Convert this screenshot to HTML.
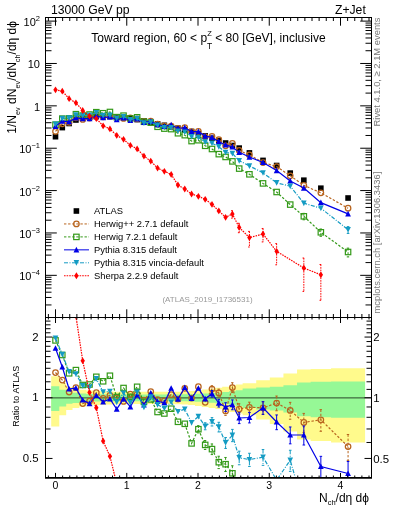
<!DOCTYPE html>
<html><head><meta charset="utf-8"><style>
html,body{margin:0;padding:0;background:#fff;width:393px;height:512px;overflow:hidden}
svg{display:block;font-family:"Liberation Sans", sans-serif;will-change:transform}
</style></head><body>
<svg width="393" height="512" viewBox="0 0 393 512">
<defs><clipPath id="cm"><rect x="46" y="18" width="325" height="299"/></clipPath><clipPath id="cr"><rect x="46" y="318" width="325" height="159"/></clipPath></defs>
<path d="M51.20 376.13L59.30 376.13L59.30 383.26L66.20 383.26L66.20 387.05L72.51 387.05L72.51 388.61L79.31 388.61L79.31 389.80L86.12 389.80L86.12 390.61L92.92 390.61L92.92 391.01L99.73 391.01L99.73 391.17L106.53 391.17L106.53 391.42L113.33 391.42L113.33 391.66L120.14 391.66L120.14 391.83L126.94 391.83L126.94 391.83L133.74 391.83L133.74 391.83L140.55 391.83L140.55 391.83L147.35 391.83L147.35 391.83L154.16 391.83L154.16 391.83L160.96 391.83L160.96 391.83L167.76 391.83L167.76 391.83L174.57 391.83L174.57 391.66L181.37 391.66L181.37 391.42L188.18 391.42L188.18 391.01L194.98 391.01L194.98 390.20L201.78 390.20L201.78 389.40L208.59 389.40L208.59 388.61L215.39 388.61L215.39 387.83L222.19 387.83L222.19 386.66L229.00 386.66L229.00 385.51L235.80 385.51L235.80 384.38L242.61 384.38L242.61 383.26L256.21 383.26L256.21 380.34L269.82 380.34L269.82 377.51L283.43 377.51L283.43 373.44L297.04 373.44L297.04 369.55L310.65 369.55L310.65 368.92L331.06 368.92L331.06 368.29L365.08 368.29L365.08 442.48L331.06 442.48L331.06 441.03L310.65 441.03L310.65 439.61L297.04 439.61L297.04 431.52L283.43 431.52L283.43 424.11L269.82 424.11L269.82 419.51L256.21 419.51L256.21 415.13L242.61 415.13L242.61 413.54L235.80 413.54L235.80 411.98L229.00 411.98L229.00 410.45L222.19 410.45L222.19 408.94L215.39 408.94L215.39 407.95L208.59 407.95L208.59 406.98L201.78 406.98L201.78 406.01L194.98 406.01L194.98 405.05L188.18 405.05L188.18 404.58L181.37 404.58L181.37 404.29L174.57 404.29L174.57 404.10L167.76 404.10L167.76 404.10L160.96 404.10L160.96 404.10L154.16 404.10L154.16 404.10L147.35 404.10L147.35 404.10L140.55 404.10L140.55 404.10L133.74 404.10L133.74 404.10L126.94 404.10L126.94 404.10L120.14 404.10L120.14 404.29L113.33 404.29L113.33 404.58L106.53 404.58L106.53 404.86L99.73 404.86L99.73 405.05L92.92 405.05L92.92 405.53L86.12 405.53L86.12 406.49L79.31 406.49L79.31 407.95L72.51 407.95L72.51 409.94L66.20 409.94L66.20 415.13L59.30 415.13L59.30 426.51L51.20 426.51Z" fill="#fffa8c"/>
<path d="M51.20 386.28L59.30 386.28L59.30 389.80L66.20 389.80L66.20 392.24L72.51 392.24L72.51 392.81L79.31 392.81L79.31 393.48L86.12 393.48L86.12 393.90L92.92 393.90L92.92 394.15L99.73 394.15L99.73 394.23L106.53 394.23L106.53 394.32L113.33 394.32L113.33 394.40L120.14 394.40L120.14 394.48L126.94 394.48L126.94 394.48L133.74 394.48L133.74 394.48L140.55 394.48L140.55 394.48L147.35 394.48L147.35 394.48L154.16 394.48L154.16 394.48L160.96 394.48L160.96 394.48L167.76 394.48L167.76 394.48L174.57 394.48L174.57 394.40L181.37 394.40L181.37 394.32L188.18 394.32L188.18 394.15L194.98 394.15L194.98 393.81L201.78 393.81L201.78 393.48L208.59 393.48L208.59 393.06L215.39 393.06L215.39 392.65L222.19 392.65L222.19 391.99L229.00 391.99L229.00 391.17L235.80 391.17L235.80 390.20L242.61 390.20L242.61 388.61L256.21 388.61L256.21 387.44L269.82 387.44L269.82 386.66L283.43 386.66L283.43 385.13L297.04 385.13L297.04 382.52L310.65 382.52L310.65 381.79L331.06 381.79L331.06 381.42L365.08 381.42L365.08 417.84L331.06 417.84L331.06 417.29L310.65 417.29L310.65 416.20L297.04 416.20L297.04 412.50L283.43 412.50L283.43 410.45L269.82 410.45L269.82 409.44L256.21 409.44L256.21 407.95L242.61 407.95L242.61 406.01L235.80 406.01L235.80 404.86L229.00 404.86L229.00 403.92L222.19 403.92L222.19 403.17L215.39 403.17L215.39 402.70L208.59 402.70L208.59 402.24L201.78 402.24L201.78 401.87L194.98 401.87L194.98 401.51L188.18 401.51L188.18 401.32L181.37 401.32L181.37 401.23L174.57 401.23L174.57 401.14L167.76 401.14L167.76 401.14L160.96 401.14L160.96 401.14L154.16 401.14L154.16 401.14L147.35 401.14L147.35 401.14L140.55 401.14L140.55 401.14L133.74 401.14L133.74 401.14L126.94 401.14L126.94 401.14L120.14 401.14L120.14 401.23L113.33 401.23L113.33 401.32L106.53 401.32L106.53 401.42L99.73 401.42L99.73 401.51L92.92 401.51L92.92 401.78L86.12 401.78L86.12 402.24L79.31 402.24L79.31 402.98L72.51 402.98L72.51 403.63L66.20 403.63L66.20 406.49L59.30 406.49L59.30 410.96L51.20 410.96Z" fill="#96f896"/>
<line x1="45.5" y1="397.9" x2="371.5" y2="397.9" stroke="#000" stroke-width="1" stroke-opacity="0.72"/>
<g clip-path="url(#cm)"><rect x="52.70" y="133.90" width="5.6" height="5.6" fill="#000"/><rect x="59.50" y="124.80" width="5.6" height="5.6" fill="#000"/><rect x="66.31" y="120.70" width="5.6" height="5.6" fill="#000"/><rect x="73.11" y="117.20" width="5.6" height="5.6" fill="#000"/><rect x="79.92" y="115.45" width="5.6" height="5.6" fill="#000"/><rect x="86.72" y="114.50" width="5.6" height="5.6" fill="#000"/><rect x="93.52" y="113.80" width="5.6" height="5.6" fill="#000"/><rect x="100.33" y="113.90" width="5.6" height="5.6" fill="#000"/><rect x="107.13" y="113.80" width="5.6" height="5.6" fill="#000"/><rect x="113.93" y="114.50" width="5.6" height="5.6" fill="#000"/><rect x="120.74" y="114.90" width="5.6" height="5.6" fill="#000"/><rect x="127.54" y="115.80" width="5.6" height="5.6" fill="#000"/><rect x="134.35" y="116.80" width="5.6" height="5.6" fill="#000"/><rect x="141.15" y="118.10" width="5.6" height="5.6" fill="#000"/><rect x="147.95" y="119.50" width="5.6" height="5.6" fill="#000"/><rect x="154.76" y="121.00" width="5.6" height="5.6" fill="#000"/><rect x="161.56" y="122.50" width="5.6" height="5.6" fill="#000"/><rect x="168.37" y="124.00" width="5.6" height="5.6" fill="#000"/><rect x="175.17" y="125.40" width="5.6" height="5.6" fill="#000"/><rect x="181.97" y="126.90" width="5.6" height="5.6" fill="#000"/><rect x="188.78" y="128.70" width="5.6" height="5.6" fill="#000"/><rect x="195.58" y="130.80" width="5.6" height="5.6" fill="#000"/><rect x="202.39" y="133.10" width="5.6" height="5.6" fill="#000"/><rect x="209.19" y="135.40" width="5.6" height="5.6" fill="#000"/><rect x="215.99" y="137.80" width="5.6" height="5.6" fill="#000"/><rect x="222.80" y="140.20" width="5.6" height="5.6" fill="#000"/><rect x="229.60" y="142.70" width="5.6" height="5.6" fill="#000"/><rect x="236.40" y="145.30" width="5.6" height="5.6" fill="#000"/><rect x="246.61" y="150.10" width="5.6" height="5.6" fill="#000"/><rect x="260.22" y="157.60" width="5.6" height="5.6" fill="#000"/><rect x="273.83" y="162.70" width="5.6" height="5.6" fill="#000"/><rect x="287.43" y="170.30" width="5.6" height="5.6" fill="#000"/><rect x="301.04" y="177.40" width="5.6" height="5.6" fill="#000"/><rect x="318.05" y="185.40" width="5.6" height="5.6" fill="#000"/><rect x="345.27" y="195.20" width="5.6" height="5.6" fill="#000"/></g>
<g clip-path="url(#cm)"><path d="M55.50 131.39L62.30 123.87L69.11 122.29L75.91 117.85L82.72 119.48L89.52 118.03L96.32 115.54L103.13 116.82L109.93 116.09L116.73 117.31L123.54 118.47L130.34 117.85L137.15 118.87L143.95 121.37L150.75 121.01L157.56 124.21L164.36 125.96L171.17 126.12L177.97 128.46L184.77 127.70L191.58 131.55L198.38 131.28L205.19 136.86L211.99 136.36L218.79 139.58L225.60 145.76L232.40 143.35L239.20 150.46L249.41 154.91L263.02 162.51L276.63 166.62L290.23 175.76L303.84 185.38L320.85 192.83L348.07 208.24" fill="none" stroke="#b8641e" stroke-width="1.2" stroke-dasharray="2.4 1.7"/><circle cx="55.50" cy="131.39" r="2.75" fill="none" stroke="#b8641e" stroke-width="1.25"/><circle cx="62.30" cy="123.87" r="2.75" fill="none" stroke="#b8641e" stroke-width="1.25"/><circle cx="69.11" cy="122.29" r="2.75" fill="none" stroke="#b8641e" stroke-width="1.25"/><circle cx="75.91" cy="117.85" r="2.75" fill="none" stroke="#b8641e" stroke-width="1.25"/><circle cx="82.72" cy="119.48" r="2.75" fill="none" stroke="#b8641e" stroke-width="1.25"/><circle cx="89.52" cy="118.03" r="2.75" fill="none" stroke="#b8641e" stroke-width="1.25"/><circle cx="96.32" cy="115.54" r="2.75" fill="none" stroke="#b8641e" stroke-width="1.25"/><circle cx="103.13" cy="116.82" r="2.75" fill="none" stroke="#b8641e" stroke-width="1.25"/><circle cx="109.93" cy="116.09" r="2.75" fill="none" stroke="#b8641e" stroke-width="1.25"/><circle cx="116.73" cy="117.31" r="2.75" fill="none" stroke="#b8641e" stroke-width="1.25"/><circle cx="123.54" cy="118.47" r="2.75" fill="none" stroke="#b8641e" stroke-width="1.25"/><circle cx="130.34" cy="117.85" r="2.75" fill="none" stroke="#b8641e" stroke-width="1.25"/><circle cx="137.15" cy="118.87" r="2.75" fill="none" stroke="#b8641e" stroke-width="1.25"/><circle cx="143.95" cy="121.37" r="2.75" fill="none" stroke="#b8641e" stroke-width="1.25"/><circle cx="150.75" cy="121.01" r="2.75" fill="none" stroke="#b8641e" stroke-width="1.25"/><circle cx="157.56" cy="124.21" r="2.75" fill="none" stroke="#b8641e" stroke-width="1.25"/><circle cx="164.36" cy="125.96" r="2.75" fill="none" stroke="#b8641e" stroke-width="1.25"/><circle cx="171.17" cy="126.12" r="2.75" fill="none" stroke="#b8641e" stroke-width="1.25"/><circle cx="177.97" cy="128.46" r="2.75" fill="none" stroke="#b8641e" stroke-width="1.25"/><circle cx="184.77" cy="127.70" r="2.75" fill="none" stroke="#b8641e" stroke-width="1.25"/><circle cx="191.58" cy="131.55" r="2.75" fill="none" stroke="#b8641e" stroke-width="1.25"/><circle cx="198.38" cy="131.28" r="2.75" fill="none" stroke="#b8641e" stroke-width="1.25"/><circle cx="205.19" cy="136.86" r="2.75" fill="none" stroke="#b8641e" stroke-width="1.25"/><circle cx="211.99" cy="136.36" r="2.75" fill="none" stroke="#b8641e" stroke-width="1.25"/><circle cx="218.79" cy="139.58" r="2.75" fill="none" stroke="#b8641e" stroke-width="1.25"/><circle cx="225.60" cy="145.76" r="2.75" fill="none" stroke="#b8641e" stroke-width="1.25"/><circle cx="232.40" cy="143.35" r="2.75" fill="none" stroke="#b8641e" stroke-width="1.25"/><circle cx="239.20" cy="150.46" r="2.75" fill="none" stroke="#b8641e" stroke-width="1.25"/><circle cx="249.41" cy="154.91" r="2.75" fill="none" stroke="#b8641e" stroke-width="1.25"/><circle cx="263.02" cy="162.51" r="2.75" fill="none" stroke="#b8641e" stroke-width="1.25"/><circle cx="276.63" cy="166.62" r="2.75" fill="none" stroke="#b8641e" stroke-width="1.25"/><circle cx="290.23" cy="175.76" r="2.75" fill="none" stroke="#b8641e" stroke-width="1.25"/><circle cx="303.84" cy="185.38" r="2.75" fill="none" stroke="#b8641e" stroke-width="1.25"/><circle cx="320.85" cy="192.83" r="2.75" fill="none" stroke="#b8641e" stroke-width="1.25"/><circle cx="348.07" cy="208.24" r="2.75" fill="none" stroke="#b8641e" stroke-width="1.25"/></g>
<g clip-path="url(#cm)"><path d="M55.50 124.65L62.30 118.62L69.11 118.36L75.91 114.19L82.72 115.57L89.52 114.52L96.32 112.20L103.13 113.24L109.93 111.98L116.73 117.14L123.54 115.65L130.34 118.40L137.15 117.30L143.95 121.77L150.75 122.65L157.56 126.79L164.36 128.61L171.17 129.10L177.97 133.25L184.77 135.17L191.58 141.09L198.38 140.21L205.19 145.81L211.99 148.99L218.79 154.14L225.60 156.96L232.40 161.38L239.20 168.60L249.41 174.30L263.02 183.40L276.63 192.00L290.23 204.60L303.84 216.30L320.85 232.30L348.07 252.00" fill="none" stroke="#339918" stroke-width="1.2" stroke-dasharray="2.4 1.7"/><path d="M303.84 213.37V219.79M302.54 213.37h2.6M302.54 219.79h2.6M320.85 228.99V236.33M319.55 228.99h2.6M319.55 236.33h2.6M348.07 248.11V256.93M346.77 248.11h2.6M346.77 256.93h2.6" fill="none" stroke="#339918" stroke-width="1" stroke-dasharray="2.4 1.7"/><rect x="52.80" y="121.95" width="5.4" height="5.4" fill="none" stroke="#339918" stroke-width="1.2"/><rect x="59.60" y="115.92" width="5.4" height="5.4" fill="none" stroke="#339918" stroke-width="1.2"/><rect x="66.41" y="115.66" width="5.4" height="5.4" fill="none" stroke="#339918" stroke-width="1.2"/><rect x="73.21" y="111.49" width="5.4" height="5.4" fill="none" stroke="#339918" stroke-width="1.2"/><rect x="80.02" y="112.87" width="5.4" height="5.4" fill="none" stroke="#339918" stroke-width="1.2"/><rect x="86.82" y="111.82" width="5.4" height="5.4" fill="none" stroke="#339918" stroke-width="1.2"/><rect x="93.62" y="109.50" width="5.4" height="5.4" fill="none" stroke="#339918" stroke-width="1.2"/><rect x="100.43" y="110.54" width="5.4" height="5.4" fill="none" stroke="#339918" stroke-width="1.2"/><rect x="107.23" y="109.28" width="5.4" height="5.4" fill="none" stroke="#339918" stroke-width="1.2"/><rect x="114.03" y="114.44" width="5.4" height="5.4" fill="none" stroke="#339918" stroke-width="1.2"/><rect x="120.84" y="112.95" width="5.4" height="5.4" fill="none" stroke="#339918" stroke-width="1.2"/><rect x="127.64" y="115.70" width="5.4" height="5.4" fill="none" stroke="#339918" stroke-width="1.2"/><rect x="134.45" y="114.60" width="5.4" height="5.4" fill="none" stroke="#339918" stroke-width="1.2"/><rect x="141.25" y="119.07" width="5.4" height="5.4" fill="none" stroke="#339918" stroke-width="1.2"/><rect x="148.05" y="119.95" width="5.4" height="5.4" fill="none" stroke="#339918" stroke-width="1.2"/><rect x="154.86" y="124.09" width="5.4" height="5.4" fill="none" stroke="#339918" stroke-width="1.2"/><rect x="161.66" y="125.91" width="5.4" height="5.4" fill="none" stroke="#339918" stroke-width="1.2"/><rect x="168.47" y="126.40" width="5.4" height="5.4" fill="none" stroke="#339918" stroke-width="1.2"/><rect x="175.27" y="130.55" width="5.4" height="5.4" fill="none" stroke="#339918" stroke-width="1.2"/><rect x="182.07" y="132.47" width="5.4" height="5.4" fill="none" stroke="#339918" stroke-width="1.2"/><rect x="188.88" y="138.39" width="5.4" height="5.4" fill="none" stroke="#339918" stroke-width="1.2"/><rect x="195.68" y="137.51" width="5.4" height="5.4" fill="none" stroke="#339918" stroke-width="1.2"/><rect x="202.49" y="143.11" width="5.4" height="5.4" fill="none" stroke="#339918" stroke-width="1.2"/><rect x="209.29" y="146.29" width="5.4" height="5.4" fill="none" stroke="#339918" stroke-width="1.2"/><rect x="216.09" y="151.44" width="5.4" height="5.4" fill="none" stroke="#339918" stroke-width="1.2"/><rect x="222.90" y="154.26" width="5.4" height="5.4" fill="none" stroke="#339918" stroke-width="1.2"/><rect x="229.70" y="158.68" width="5.4" height="5.4" fill="none" stroke="#339918" stroke-width="1.2"/><rect x="236.50" y="165.90" width="5.4" height="5.4" fill="none" stroke="#339918" stroke-width="1.2"/><rect x="246.71" y="171.60" width="5.4" height="5.4" fill="none" stroke="#339918" stroke-width="1.2"/><rect x="260.32" y="180.70" width="5.4" height="5.4" fill="none" stroke="#339918" stroke-width="1.2"/><rect x="273.93" y="189.30" width="5.4" height="5.4" fill="none" stroke="#339918" stroke-width="1.2"/><rect x="287.53" y="201.90" width="5.4" height="5.4" fill="none" stroke="#339918" stroke-width="1.2"/><rect x="301.14" y="213.60" width="5.4" height="5.4" fill="none" stroke="#339918" stroke-width="1.2"/><rect x="318.15" y="229.60" width="5.4" height="5.4" fill="none" stroke="#339918" stroke-width="1.2"/><rect x="345.37" y="249.30" width="5.4" height="5.4" fill="none" stroke="#339918" stroke-width="1.2"/></g>
<g clip-path="url(#cm)"><path d="M55.50 126.30L62.30 121.14L69.11 121.66L75.91 117.95L82.72 118.72L89.52 118.53L96.32 116.13L103.13 117.55L109.93 116.86L116.73 119.71L123.54 117.92L130.34 120.50L137.15 119.02L143.95 122.42L150.75 121.30L157.56 124.59L164.36 126.34L171.17 124.80L177.97 128.50L184.77 127.55L191.58 131.64L198.38 131.60L205.19 136.12L211.99 137.35L218.79 141.72L225.60 144.94L232.40 146.96L239.20 152.36L249.41 157.05L263.02 162.51L276.63 170.60L290.23 180.93L303.84 188.03L320.85 202.65L348.07 213.92" fill="none" stroke="#0000e6" stroke-width="1.2"/><path d="M55.50 123.20L58.40 128.90L52.60 128.90Z" fill="#0000e6"/><path d="M62.30 118.04L65.20 123.74L59.40 123.74Z" fill="#0000e6"/><path d="M69.11 118.56L72.01 124.26L66.21 124.26Z" fill="#0000e6"/><path d="M75.91 114.85L78.81 120.55L73.01 120.55Z" fill="#0000e6"/><path d="M82.72 115.62L85.62 121.32L79.82 121.32Z" fill="#0000e6"/><path d="M89.52 115.43L92.42 121.13L86.62 121.13Z" fill="#0000e6"/><path d="M96.32 113.03L99.22 118.73L93.42 118.73Z" fill="#0000e6"/><path d="M103.13 114.45L106.03 120.15L100.23 120.15Z" fill="#0000e6"/><path d="M109.93 113.76L112.83 119.46L107.03 119.46Z" fill="#0000e6"/><path d="M116.73 116.61L119.63 122.31L113.83 122.31Z" fill="#0000e6"/><path d="M123.54 114.82L126.44 120.52L120.64 120.52Z" fill="#0000e6"/><path d="M130.34 117.40L133.24 123.10L127.44 123.10Z" fill="#0000e6"/><path d="M137.15 115.92L140.05 121.62L134.25 121.62Z" fill="#0000e6"/><path d="M143.95 119.32L146.85 125.02L141.05 125.02Z" fill="#0000e6"/><path d="M150.75 118.20L153.65 123.90L147.85 123.90Z" fill="#0000e6"/><path d="M157.56 121.49L160.46 127.19L154.66 127.19Z" fill="#0000e6"/><path d="M164.36 123.24L167.26 128.94L161.46 128.94Z" fill="#0000e6"/><path d="M171.17 121.70L174.07 127.40L168.27 127.40Z" fill="#0000e6"/><path d="M177.97 125.40L180.87 131.10L175.07 131.10Z" fill="#0000e6"/><path d="M184.77 124.45L187.67 130.15L181.87 130.15Z" fill="#0000e6"/><path d="M191.58 128.54L194.48 134.24L188.68 134.24Z" fill="#0000e6"/><path d="M198.38 128.50L201.28 134.20L195.48 134.20Z" fill="#0000e6"/><path d="M205.19 133.02L208.09 138.72L202.29 138.72Z" fill="#0000e6"/><path d="M211.99 134.25L214.89 139.95L209.09 139.95Z" fill="#0000e6"/><path d="M218.79 138.62L221.69 144.32L215.89 144.32Z" fill="#0000e6"/><path d="M225.60 141.84L228.50 147.54L222.70 147.54Z" fill="#0000e6"/><path d="M232.40 143.86L235.30 149.56L229.50 149.56Z" fill="#0000e6"/><path d="M239.20 149.26L242.10 154.96L236.30 154.96Z" fill="#0000e6"/><path d="M249.41 153.95L252.31 159.65L246.51 159.65Z" fill="#0000e6"/><path d="M263.02 159.41L265.92 165.11L260.12 165.11Z" fill="#0000e6"/><path d="M276.63 167.50L279.53 173.20L273.73 173.20Z" fill="#0000e6"/><path d="M290.23 177.83L293.13 183.53L287.33 183.53Z" fill="#0000e6"/><path d="M303.84 184.93L306.74 190.63L300.94 190.63Z" fill="#0000e6"/><path d="M320.85 199.55L323.75 205.25L317.95 205.25Z" fill="#0000e6"/><path d="M348.07 210.82L350.97 216.52L345.17 216.52Z" fill="#0000e6"/></g>
<g clip-path="url(#cm)"><path d="M55.50 124.16L62.30 118.51L69.11 118.03L75.91 115.01L82.72 115.73L89.52 115.10L96.32 112.60L103.13 115.49L109.93 115.27L116.73 118.24L123.54 116.72L130.34 119.64L137.15 118.45L143.95 122.91L150.75 122.14L157.56 125.28L164.36 127.52L171.17 127.76L177.97 131.11L184.77 132.09L191.58 136.74L198.38 137.52L205.19 141.88L211.99 143.23L218.79 146.75L225.60 152.47L232.40 153.39L239.20 160.70L249.41 165.90L263.02 172.87L276.63 182.80L290.23 186.22L303.84 203.20L320.85 208.20L348.07 229.70" fill="none" stroke="#149bc3" stroke-width="1.2" stroke-dasharray="4 1.5 1 1.5"/><path d="M348.07 226.60V233.44M346.77 226.60h2.6M346.77 233.44h2.6" fill="none" stroke="#149bc3" stroke-width="1" stroke-dasharray="4 1.5 1 1.5"/><path d="M52.70 121.46L58.30 121.46L55.50 127.16Z" fill="#149bc3"/><path d="M59.50 115.81L65.10 115.81L62.30 121.51Z" fill="#149bc3"/><path d="M66.31 115.33L71.91 115.33L69.11 121.03Z" fill="#149bc3"/><path d="M73.11 112.31L78.71 112.31L75.91 118.01Z" fill="#149bc3"/><path d="M79.92 113.03L85.52 113.03L82.72 118.73Z" fill="#149bc3"/><path d="M86.72 112.40L92.32 112.40L89.52 118.10Z" fill="#149bc3"/><path d="M93.52 109.90L99.12 109.90L96.32 115.60Z" fill="#149bc3"/><path d="M100.33 112.79L105.93 112.79L103.13 118.49Z" fill="#149bc3"/><path d="M107.13 112.57L112.73 112.57L109.93 118.27Z" fill="#149bc3"/><path d="M113.93 115.54L119.53 115.54L116.73 121.24Z" fill="#149bc3"/><path d="M120.74 114.02L126.34 114.02L123.54 119.72Z" fill="#149bc3"/><path d="M127.54 116.94L133.14 116.94L130.34 122.64Z" fill="#149bc3"/><path d="M134.35 115.75L139.95 115.75L137.15 121.45Z" fill="#149bc3"/><path d="M141.15 120.21L146.75 120.21L143.95 125.91Z" fill="#149bc3"/><path d="M147.95 119.44L153.55 119.44L150.75 125.14Z" fill="#149bc3"/><path d="M154.76 122.58L160.36 122.58L157.56 128.28Z" fill="#149bc3"/><path d="M161.56 124.82L167.16 124.82L164.36 130.52Z" fill="#149bc3"/><path d="M168.37 125.06L173.97 125.06L171.17 130.76Z" fill="#149bc3"/><path d="M175.17 128.41L180.77 128.41L177.97 134.11Z" fill="#149bc3"/><path d="M181.97 129.39L187.57 129.39L184.77 135.09Z" fill="#149bc3"/><path d="M188.78 134.04L194.38 134.04L191.58 139.74Z" fill="#149bc3"/><path d="M195.58 134.82L201.18 134.82L198.38 140.52Z" fill="#149bc3"/><path d="M202.39 139.18L207.99 139.18L205.19 144.88Z" fill="#149bc3"/><path d="M209.19 140.53L214.79 140.53L211.99 146.23Z" fill="#149bc3"/><path d="M215.99 144.05L221.59 144.05L218.79 149.75Z" fill="#149bc3"/><path d="M222.80 149.77L228.40 149.77L225.60 155.47Z" fill="#149bc3"/><path d="M229.60 150.69L235.20 150.69L232.40 156.39Z" fill="#149bc3"/><path d="M236.40 158.00L242.00 158.00L239.20 163.70Z" fill="#149bc3"/><path d="M246.61 163.20L252.21 163.20L249.41 168.90Z" fill="#149bc3"/><path d="M260.22 170.17L265.82 170.17L263.02 175.87Z" fill="#149bc3"/><path d="M273.83 180.10L279.43 180.10L276.63 185.80Z" fill="#149bc3"/><path d="M287.43 183.52L293.03 183.52L290.23 189.22Z" fill="#149bc3"/><path d="M301.04 200.50L306.64 200.50L303.84 206.20Z" fill="#149bc3"/><path d="M318.05 205.50L323.65 205.50L320.85 211.20Z" fill="#149bc3"/><path d="M345.27 227.00L350.87 227.00L348.07 232.70Z" fill="#149bc3"/></g>
<g clip-path="url(#cm)"><path d="M55.50 89.80L62.30 91.20L69.11 98.70L75.91 102.80L82.72 110.50L89.52 116.20L96.32 118.70L103.13 125.80L109.93 128.90L116.73 135.40L123.54 139.30L130.34 145.30L137.15 148.90L143.95 156.10L150.75 161.10L157.56 168.10L164.36 171.30L171.17 174.40L177.97 185.00L184.77 189.00L191.58 194.00L198.38 196.30L205.19 199.30L211.99 204.40L218.79 210.90L225.60 217.30L232.40 214.00L239.20 227.40L249.41 237.60L263.02 234.00L276.63 251.30L303.84 268.00L320.85 274.80" fill="none" stroke="#ff0000" stroke-width="1.2" stroke-dasharray="1.6 1"/><path d="M232.40 210.65V218.11M231.10 210.65h2.6M231.10 218.11h2.6M239.20 223.29V232.69M237.90 223.29h2.6M237.90 232.69h2.6M249.41 231.41V247.00M248.11 231.41h2.6M248.11 247.00h2.6M263.02 228.48V241.93M261.72 228.48h2.6M261.72 241.93h2.6M276.63 243.60V264.81M275.33 243.60h2.6M275.33 264.81h2.6M303.84 258.02V291.42M302.54 258.02h2.6M302.54 291.42h2.6M320.85 264.50V300.31M319.55 264.50h2.6M319.55 300.31h2.6" fill="none" stroke="#ff0000" stroke-width="1" stroke-dasharray="1.6 1"/><path d="M55.50 86.40L57.70 89.80L55.50 93.20L53.30 89.80Z" fill="#ff0000"/><path d="M62.30 87.80L64.50 91.20L62.30 94.60L60.10 91.20Z" fill="#ff0000"/><path d="M69.11 95.30L71.31 98.70L69.11 102.10L66.91 98.70Z" fill="#ff0000"/><path d="M75.91 99.40L78.11 102.80L75.91 106.20L73.71 102.80Z" fill="#ff0000"/><path d="M82.72 107.10L84.92 110.50L82.72 113.90L80.52 110.50Z" fill="#ff0000"/><path d="M89.52 112.80L91.72 116.20L89.52 119.60L87.32 116.20Z" fill="#ff0000"/><path d="M96.32 115.30L98.52 118.70L96.32 122.10L94.12 118.70Z" fill="#ff0000"/><path d="M103.13 122.40L105.33 125.80L103.13 129.20L100.93 125.80Z" fill="#ff0000"/><path d="M109.93 125.50L112.13 128.90L109.93 132.30L107.73 128.90Z" fill="#ff0000"/><path d="M116.73 132.00L118.93 135.40L116.73 138.80L114.53 135.40Z" fill="#ff0000"/><path d="M123.54 135.90L125.74 139.30L123.54 142.70L121.34 139.30Z" fill="#ff0000"/><path d="M130.34 141.90L132.54 145.30L130.34 148.70L128.14 145.30Z" fill="#ff0000"/><path d="M137.15 145.50L139.35 148.90L137.15 152.30L134.95 148.90Z" fill="#ff0000"/><path d="M143.95 152.70L146.15 156.10L143.95 159.50L141.75 156.10Z" fill="#ff0000"/><path d="M150.75 157.70L152.95 161.10L150.75 164.50L148.55 161.10Z" fill="#ff0000"/><path d="M157.56 164.70L159.76 168.10L157.56 171.50L155.36 168.10Z" fill="#ff0000"/><path d="M164.36 167.90L166.56 171.30L164.36 174.70L162.16 171.30Z" fill="#ff0000"/><path d="M171.17 171.00L173.37 174.40L171.17 177.80L168.97 174.40Z" fill="#ff0000"/><path d="M177.97 181.60L180.17 185.00L177.97 188.40L175.77 185.00Z" fill="#ff0000"/><path d="M184.77 185.60L186.97 189.00L184.77 192.40L182.57 189.00Z" fill="#ff0000"/><path d="M191.58 190.60L193.78 194.00L191.58 197.40L189.38 194.00Z" fill="#ff0000"/><path d="M198.38 192.90L200.58 196.30L198.38 199.70L196.18 196.30Z" fill="#ff0000"/><path d="M205.19 195.90L207.39 199.30L205.19 202.70L202.99 199.30Z" fill="#ff0000"/><path d="M211.99 201.00L214.19 204.40L211.99 207.80L209.79 204.40Z" fill="#ff0000"/><path d="M218.79 207.50L220.99 210.90L218.79 214.30L216.59 210.90Z" fill="#ff0000"/><path d="M225.60 213.90L227.80 217.30L225.60 220.70L223.40 217.30Z" fill="#ff0000"/><path d="M232.40 210.60L234.60 214.00L232.40 217.40L230.20 214.00Z" fill="#ff0000"/><path d="M239.20 224.00L241.40 227.40L239.20 230.80L237.00 227.40Z" fill="#ff0000"/><path d="M249.41 234.20L251.61 237.60L249.41 241.00L247.21 237.60Z" fill="#ff0000"/><path d="M263.02 230.60L265.22 234.00L263.02 237.40L260.82 234.00Z" fill="#ff0000"/><path d="M276.63 247.90L278.83 251.30L276.63 254.70L274.43 251.30Z" fill="#ff0000"/><path d="M303.84 264.60L306.04 268.00L303.84 271.40L301.64 268.00Z" fill="#ff0000"/><path d="M320.85 271.40L323.05 274.80L320.85 278.20L318.65 274.80Z" fill="#ff0000"/></g>
<g clip-path="url(#cr)"><path d="M55.50 372.50L62.30 380.00L69.11 392.00L75.91 387.50L82.72 403.60L89.52 401.20L96.32 392.70L103.13 398.30L109.93 395.30L116.73 397.80L123.54 401.40L130.34 394.20L137.15 394.30L143.95 400.00L150.75 391.60L157.56 399.70L164.36 400.90L171.17 394.50L177.97 399.00L184.77 388.25L191.58 398.00L198.38 386.70L205.19 402.30L211.99 389.00L218.79 392.90L225.60 410.90L232.40 387.50L239.20 409.00L249.41 407.30L263.02 407.80L276.63 403.10L290.23 410.40L303.84 422.40L320.85 419.80L348.07 446.50" fill="none" stroke="#b8641e" stroke-width="1.2" stroke-dasharray="2.4 1.7"/><path d="M211.99 385.73V392.39M210.69 385.73h2.6M210.69 392.39h2.6M218.79 389.13V396.84M217.49 389.13h2.6M217.49 396.84h2.6M225.60 406.63V415.39M224.30 406.63h2.6M224.30 415.39h2.6M232.40 382.73V392.55M231.10 382.73h2.6M231.10 392.55h2.6M239.20 403.73V414.60M237.90 403.73h2.6M237.90 414.60h2.6M249.41 402.20V412.72M248.11 402.20h2.6M248.11 412.72h2.6M263.02 401.71V414.34M261.72 401.71h2.6M261.72 414.34h2.6M276.63 396.04V410.78M275.33 396.04h2.6M275.33 410.78h2.6M290.23 402.37V419.24M288.93 402.37h2.6M288.93 419.24h2.6M303.84 413.42V432.41M302.54 413.42h2.6M302.54 432.41h2.6M320.85 409.64V431.29M319.55 409.64h2.6M319.55 431.29h2.6M348.07 434.49V460.42M346.77 434.49h2.6M346.77 460.42h2.6" fill="none" stroke="#b8641e" stroke-width="1" stroke-dasharray="2.4 1.7"/><circle cx="55.50" cy="372.50" r="2.75" fill="none" stroke="#b8641e" stroke-width="1.25"/><circle cx="62.30" cy="380.00" r="2.75" fill="none" stroke="#b8641e" stroke-width="1.25"/><circle cx="69.11" cy="392.00" r="2.75" fill="none" stroke="#b8641e" stroke-width="1.25"/><circle cx="75.91" cy="387.50" r="2.75" fill="none" stroke="#b8641e" stroke-width="1.25"/><circle cx="82.72" cy="403.60" r="2.75" fill="none" stroke="#b8641e" stroke-width="1.25"/><circle cx="89.52" cy="401.20" r="2.75" fill="none" stroke="#b8641e" stroke-width="1.25"/><circle cx="96.32" cy="392.70" r="2.75" fill="none" stroke="#b8641e" stroke-width="1.25"/><circle cx="103.13" cy="398.30" r="2.75" fill="none" stroke="#b8641e" stroke-width="1.25"/><circle cx="109.93" cy="395.30" r="2.75" fill="none" stroke="#b8641e" stroke-width="1.25"/><circle cx="116.73" cy="397.80" r="2.75" fill="none" stroke="#b8641e" stroke-width="1.25"/><circle cx="123.54" cy="401.40" r="2.75" fill="none" stroke="#b8641e" stroke-width="1.25"/><circle cx="130.34" cy="394.20" r="2.75" fill="none" stroke="#b8641e" stroke-width="1.25"/><circle cx="137.15" cy="394.30" r="2.75" fill="none" stroke="#b8641e" stroke-width="1.25"/><circle cx="143.95" cy="400.00" r="2.75" fill="none" stroke="#b8641e" stroke-width="1.25"/><circle cx="150.75" cy="391.60" r="2.75" fill="none" stroke="#b8641e" stroke-width="1.25"/><circle cx="157.56" cy="399.70" r="2.75" fill="none" stroke="#b8641e" stroke-width="1.25"/><circle cx="164.36" cy="400.90" r="2.75" fill="none" stroke="#b8641e" stroke-width="1.25"/><circle cx="171.17" cy="394.50" r="2.75" fill="none" stroke="#b8641e" stroke-width="1.25"/><circle cx="177.97" cy="399.00" r="2.75" fill="none" stroke="#b8641e" stroke-width="1.25"/><circle cx="184.77" cy="388.25" r="2.75" fill="none" stroke="#b8641e" stroke-width="1.25"/><circle cx="191.58" cy="398.00" r="2.75" fill="none" stroke="#b8641e" stroke-width="1.25"/><circle cx="198.38" cy="386.70" r="2.75" fill="none" stroke="#b8641e" stroke-width="1.25"/><circle cx="205.19" cy="402.30" r="2.75" fill="none" stroke="#b8641e" stroke-width="1.25"/><circle cx="211.99" cy="389.00" r="2.75" fill="none" stroke="#b8641e" stroke-width="1.25"/><circle cx="218.79" cy="392.90" r="2.75" fill="none" stroke="#b8641e" stroke-width="1.25"/><circle cx="225.60" cy="410.90" r="2.75" fill="none" stroke="#b8641e" stroke-width="1.25"/><circle cx="232.40" cy="387.50" r="2.75" fill="none" stroke="#b8641e" stroke-width="1.25"/><circle cx="239.20" cy="409.00" r="2.75" fill="none" stroke="#b8641e" stroke-width="1.25"/><circle cx="249.41" cy="407.30" r="2.75" fill="none" stroke="#b8641e" stroke-width="1.25"/><circle cx="263.02" cy="407.80" r="2.75" fill="none" stroke="#b8641e" stroke-width="1.25"/><circle cx="276.63" cy="403.10" r="2.75" fill="none" stroke="#b8641e" stroke-width="1.25"/><circle cx="290.23" cy="410.40" r="2.75" fill="none" stroke="#b8641e" stroke-width="1.25"/><circle cx="303.84" cy="422.40" r="2.75" fill="none" stroke="#b8641e" stroke-width="1.25"/><circle cx="320.85" cy="419.80" r="2.75" fill="none" stroke="#b8641e" stroke-width="1.25"/><circle cx="348.07" cy="446.50" r="2.75" fill="none" stroke="#b8641e" stroke-width="1.25"/></g>
<g clip-path="url(#cr)"><path d="M55.50 340.40L62.30 355.00L69.11 373.30L75.91 370.10L82.72 385.00L89.52 384.50L96.32 376.80L103.13 381.30L109.93 375.75L116.73 397.00L123.54 388.00L130.34 396.80L137.15 386.80L143.95 401.90L150.75 399.40L157.56 412.00L164.36 413.50L171.17 408.70L177.97 421.80L184.77 423.80L191.58 443.40L198.38 429.20L205.19 444.90L211.99 449.10L218.79 462.20L225.60 464.20L232.40 473.30L239.20 495.30L249.41 499.58L263.02 507.19L276.63 523.85L290.23 547.64L303.84 569.53L320.85 607.60L348.07 654.70" fill="none" stroke="#339918" stroke-width="1.2" stroke-dasharray="2.4 1.7"/><path d="M198.38 425.63V432.92M197.08 425.63h2.6M197.08 432.92h2.6M205.19 440.53V449.50M203.89 440.53h2.6M203.89 449.50h2.6M211.99 443.93V454.59M210.69 443.93h2.6M210.69 454.59h2.6M218.79 456.24V468.59M217.49 456.24h2.6M217.49 468.59h2.6M225.60 457.46V471.50M224.30 457.46h2.6M224.30 471.50h2.6M232.40 465.79V481.52M231.10 465.79h2.6M231.10 481.52h2.6" fill="none" stroke="#339918" stroke-width="1" stroke-dasharray="2.4 1.7"/><rect x="52.80" y="337.70" width="5.4" height="5.4" fill="none" stroke="#339918" stroke-width="1.2"/><rect x="59.60" y="352.30" width="5.4" height="5.4" fill="none" stroke="#339918" stroke-width="1.2"/><rect x="66.41" y="370.60" width="5.4" height="5.4" fill="none" stroke="#339918" stroke-width="1.2"/><rect x="73.21" y="367.40" width="5.4" height="5.4" fill="none" stroke="#339918" stroke-width="1.2"/><rect x="80.02" y="382.30" width="5.4" height="5.4" fill="none" stroke="#339918" stroke-width="1.2"/><rect x="86.82" y="381.80" width="5.4" height="5.4" fill="none" stroke="#339918" stroke-width="1.2"/><rect x="93.62" y="374.10" width="5.4" height="5.4" fill="none" stroke="#339918" stroke-width="1.2"/><rect x="100.43" y="378.60" width="5.4" height="5.4" fill="none" stroke="#339918" stroke-width="1.2"/><rect x="107.23" y="373.05" width="5.4" height="5.4" fill="none" stroke="#339918" stroke-width="1.2"/><rect x="114.03" y="394.30" width="5.4" height="5.4" fill="none" stroke="#339918" stroke-width="1.2"/><rect x="120.84" y="385.30" width="5.4" height="5.4" fill="none" stroke="#339918" stroke-width="1.2"/><rect x="127.64" y="394.10" width="5.4" height="5.4" fill="none" stroke="#339918" stroke-width="1.2"/><rect x="134.45" y="384.10" width="5.4" height="5.4" fill="none" stroke="#339918" stroke-width="1.2"/><rect x="141.25" y="399.20" width="5.4" height="5.4" fill="none" stroke="#339918" stroke-width="1.2"/><rect x="148.05" y="396.70" width="5.4" height="5.4" fill="none" stroke="#339918" stroke-width="1.2"/><rect x="154.86" y="409.30" width="5.4" height="5.4" fill="none" stroke="#339918" stroke-width="1.2"/><rect x="161.66" y="410.80" width="5.4" height="5.4" fill="none" stroke="#339918" stroke-width="1.2"/><rect x="168.47" y="406.00" width="5.4" height="5.4" fill="none" stroke="#339918" stroke-width="1.2"/><rect x="175.27" y="419.10" width="5.4" height="5.4" fill="none" stroke="#339918" stroke-width="1.2"/><rect x="182.07" y="421.10" width="5.4" height="5.4" fill="none" stroke="#339918" stroke-width="1.2"/><rect x="188.88" y="440.70" width="5.4" height="5.4" fill="none" stroke="#339918" stroke-width="1.2"/><rect x="195.68" y="426.50" width="5.4" height="5.4" fill="none" stroke="#339918" stroke-width="1.2"/><rect x="202.49" y="442.20" width="5.4" height="5.4" fill="none" stroke="#339918" stroke-width="1.2"/><rect x="209.29" y="446.40" width="5.4" height="5.4" fill="none" stroke="#339918" stroke-width="1.2"/><rect x="216.09" y="459.50" width="5.4" height="5.4" fill="none" stroke="#339918" stroke-width="1.2"/><rect x="222.90" y="461.50" width="5.4" height="5.4" fill="none" stroke="#339918" stroke-width="1.2"/><rect x="229.70" y="470.60" width="5.4" height="5.4" fill="none" stroke="#339918" stroke-width="1.2"/><rect x="236.50" y="492.60" width="5.4" height="5.4" fill="none" stroke="#339918" stroke-width="1.2"/><rect x="246.71" y="496.88" width="5.4" height="5.4" fill="none" stroke="#339918" stroke-width="1.2"/><rect x="260.32" y="504.49" width="5.4" height="5.4" fill="none" stroke="#339918" stroke-width="1.2"/><rect x="273.93" y="521.15" width="5.4" height="5.4" fill="none" stroke="#339918" stroke-width="1.2"/><rect x="287.53" y="544.94" width="5.4" height="5.4" fill="none" stroke="#339918" stroke-width="1.2"/><rect x="301.14" y="566.83" width="5.4" height="5.4" fill="none" stroke="#339918" stroke-width="1.2"/><rect x="318.15" y="604.90" width="5.4" height="5.4" fill="none" stroke="#339918" stroke-width="1.2"/><rect x="345.37" y="652.00" width="5.4" height="5.4" fill="none" stroke="#339918" stroke-width="1.2"/></g>
<g clip-path="url(#cr)"><path d="M55.50 348.25L62.30 367.00L69.11 389.00L75.91 388.00L82.72 400.00L89.52 403.60L96.32 395.50L103.13 401.80L109.93 399.00L116.73 409.20L123.54 398.80L130.34 406.80L137.15 395.00L143.95 405.00L150.75 393.00L157.56 401.50L164.36 402.70L171.17 388.25L177.97 399.20L184.77 387.50L191.58 398.40L198.38 388.25L205.19 398.80L211.99 393.70L218.79 403.10L225.60 407.00L232.40 404.70L239.20 418.00L249.41 417.50L263.02 407.80L276.63 422.00L290.23 435.00L303.84 435.00L320.85 466.50L348.07 473.50" fill="none" stroke="#0000e6" stroke-width="1.2"/><path d="M211.99 390.43V397.09M210.69 390.43h2.6M210.69 397.09h2.6M218.79 399.33V407.04M217.49 399.33h2.6M217.49 407.04h2.6M225.60 402.73V411.49M224.30 402.73h2.6M224.30 411.49h2.6M232.40 399.93V409.75M231.10 399.93h2.6M231.10 409.75h2.6M239.20 412.73V423.60M237.90 412.73h2.6M237.90 423.60h2.6M249.41 412.40V422.92M248.11 412.40h2.6M248.11 422.92h2.6M263.02 401.71V414.34M261.72 401.71h2.6M261.72 414.34h2.6M276.63 414.94V429.68M275.33 414.94h2.6M275.33 429.68h2.6M290.23 426.97V443.84M288.93 426.97h2.6M288.93 443.84h2.6M303.84 426.02V445.01M302.54 426.02h2.6M302.54 445.01h2.6M320.85 456.34V477.99M319.55 456.34h2.6M319.55 477.99h2.6M348.07 461.49V487.42M346.77 461.49h2.6M346.77 487.42h2.6" fill="none" stroke="#0000e6" stroke-width="1"/><path d="M55.50 345.15L58.40 350.85L52.60 350.85Z" fill="#0000e6"/><path d="M62.30 363.90L65.20 369.60L59.40 369.60Z" fill="#0000e6"/><path d="M69.11 385.90L72.01 391.60L66.21 391.60Z" fill="#0000e6"/><path d="M75.91 384.90L78.81 390.60L73.01 390.60Z" fill="#0000e6"/><path d="M82.72 396.90L85.62 402.60L79.82 402.60Z" fill="#0000e6"/><path d="M89.52 400.50L92.42 406.20L86.62 406.20Z" fill="#0000e6"/><path d="M96.32 392.40L99.22 398.10L93.42 398.10Z" fill="#0000e6"/><path d="M103.13 398.70L106.03 404.40L100.23 404.40Z" fill="#0000e6"/><path d="M109.93 395.90L112.83 401.60L107.03 401.60Z" fill="#0000e6"/><path d="M116.73 406.10L119.63 411.80L113.83 411.80Z" fill="#0000e6"/><path d="M123.54 395.70L126.44 401.40L120.64 401.40Z" fill="#0000e6"/><path d="M130.34 403.70L133.24 409.40L127.44 409.40Z" fill="#0000e6"/><path d="M137.15 391.90L140.05 397.60L134.25 397.60Z" fill="#0000e6"/><path d="M143.95 401.90L146.85 407.60L141.05 407.60Z" fill="#0000e6"/><path d="M150.75 389.90L153.65 395.60L147.85 395.60Z" fill="#0000e6"/><path d="M157.56 398.40L160.46 404.10L154.66 404.10Z" fill="#0000e6"/><path d="M164.36 399.60L167.26 405.30L161.46 405.30Z" fill="#0000e6"/><path d="M171.17 385.15L174.07 390.85L168.27 390.85Z" fill="#0000e6"/><path d="M177.97 396.10L180.87 401.80L175.07 401.80Z" fill="#0000e6"/><path d="M184.77 384.40L187.67 390.10L181.87 390.10Z" fill="#0000e6"/><path d="M191.58 395.30L194.48 401.00L188.68 401.00Z" fill="#0000e6"/><path d="M198.38 385.15L201.28 390.85L195.48 390.85Z" fill="#0000e6"/><path d="M205.19 395.70L208.09 401.40L202.29 401.40Z" fill="#0000e6"/><path d="M211.99 390.60L214.89 396.30L209.09 396.30Z" fill="#0000e6"/><path d="M218.79 400.00L221.69 405.70L215.89 405.70Z" fill="#0000e6"/><path d="M225.60 403.90L228.50 409.60L222.70 409.60Z" fill="#0000e6"/><path d="M232.40 401.60L235.30 407.30L229.50 407.30Z" fill="#0000e6"/><path d="M239.20 414.90L242.10 420.60L236.30 420.60Z" fill="#0000e6"/><path d="M249.41 414.40L252.31 420.10L246.51 420.10Z" fill="#0000e6"/><path d="M263.02 404.70L265.92 410.40L260.12 410.40Z" fill="#0000e6"/><path d="M276.63 418.90L279.53 424.60L273.73 424.60Z" fill="#0000e6"/><path d="M290.23 431.90L293.13 437.60L287.33 437.60Z" fill="#0000e6"/><path d="M303.84 431.90L306.74 437.60L300.94 437.60Z" fill="#0000e6"/><path d="M320.85 463.40L323.75 469.10L317.95 469.10Z" fill="#0000e6"/><path d="M348.07 470.40L350.97 476.10L345.17 476.10Z" fill="#0000e6"/></g>
<g clip-path="url(#cr)"><path d="M55.50 338.10L62.30 354.50L69.11 371.70L75.91 374.00L82.72 385.75L89.52 387.30L96.32 378.70L103.13 392.00L109.93 391.40L116.73 402.20L123.54 393.10L130.34 402.70L137.15 392.30L143.95 407.30L150.75 397.00L157.56 404.80L164.36 408.30L171.17 402.30L177.97 411.60L184.77 409.10L191.58 422.70L198.38 416.40L205.19 426.20L211.99 421.70L218.79 427.00L225.60 442.80L232.40 435.30L239.20 457.70L249.41 459.60L263.02 457.10L276.63 480.07L290.23 460.20L303.84 507.19L320.85 492.92L348.07 548.59" fill="none" stroke="#149bc3" stroke-width="1.2" stroke-dasharray="4 1.5 1 1.5"/><path d="M205.19 422.77V429.77M203.89 422.77h2.6M203.89 429.77h2.6M211.99 417.64V425.96M210.69 417.64h2.6M210.69 425.96h2.6M218.79 422.31V431.95M217.49 422.31h2.6M217.49 431.95h2.6M225.60 437.49V448.45M224.30 437.49h2.6M224.30 448.45h2.6M232.40 429.38V441.65M231.10 429.38h2.6M231.10 441.65h2.6M239.20 451.16V464.76M237.90 451.16h2.6M237.90 464.76h2.6M249.41 453.27V466.43M248.11 453.27h2.6M248.11 466.43h2.6M263.02 449.55V465.36M261.72 449.55h2.6M261.72 465.36h2.6M290.23 450.28V471.39M288.93 450.28h2.6M288.93 471.39h2.6" fill="none" stroke="#149bc3" stroke-width="1" stroke-dasharray="4 1.5 1 1.5"/><path d="M52.70 335.40L58.30 335.40L55.50 341.10Z" fill="#149bc3"/><path d="M59.50 351.80L65.10 351.80L62.30 357.50Z" fill="#149bc3"/><path d="M66.31 369.00L71.91 369.00L69.11 374.70Z" fill="#149bc3"/><path d="M73.11 371.30L78.71 371.30L75.91 377.00Z" fill="#149bc3"/><path d="M79.92 383.05L85.52 383.05L82.72 388.75Z" fill="#149bc3"/><path d="M86.72 384.60L92.32 384.60L89.52 390.30Z" fill="#149bc3"/><path d="M93.52 376.00L99.12 376.00L96.32 381.70Z" fill="#149bc3"/><path d="M100.33 389.30L105.93 389.30L103.13 395.00Z" fill="#149bc3"/><path d="M107.13 388.70L112.73 388.70L109.93 394.40Z" fill="#149bc3"/><path d="M113.93 399.50L119.53 399.50L116.73 405.20Z" fill="#149bc3"/><path d="M120.74 390.40L126.34 390.40L123.54 396.10Z" fill="#149bc3"/><path d="M127.54 400.00L133.14 400.00L130.34 405.70Z" fill="#149bc3"/><path d="M134.35 389.60L139.95 389.60L137.15 395.30Z" fill="#149bc3"/><path d="M141.15 404.60L146.75 404.60L143.95 410.30Z" fill="#149bc3"/><path d="M147.95 394.30L153.55 394.30L150.75 400.00Z" fill="#149bc3"/><path d="M154.76 402.10L160.36 402.10L157.56 407.80Z" fill="#149bc3"/><path d="M161.56 405.60L167.16 405.60L164.36 411.30Z" fill="#149bc3"/><path d="M168.37 399.60L173.97 399.60L171.17 405.30Z" fill="#149bc3"/><path d="M175.17 408.90L180.77 408.90L177.97 414.60Z" fill="#149bc3"/><path d="M181.97 406.40L187.57 406.40L184.77 412.10Z" fill="#149bc3"/><path d="M188.78 420.00L194.38 420.00L191.58 425.70Z" fill="#149bc3"/><path d="M195.58 413.70L201.18 413.70L198.38 419.40Z" fill="#149bc3"/><path d="M202.39 423.50L207.99 423.50L205.19 429.20Z" fill="#149bc3"/><path d="M209.19 419.00L214.79 419.00L211.99 424.70Z" fill="#149bc3"/><path d="M215.99 424.30L221.59 424.30L218.79 430.00Z" fill="#149bc3"/><path d="M222.80 440.10L228.40 440.10L225.60 445.80Z" fill="#149bc3"/><path d="M229.60 432.60L235.20 432.60L232.40 438.30Z" fill="#149bc3"/><path d="M236.40 455.00L242.00 455.00L239.20 460.70Z" fill="#149bc3"/><path d="M246.61 456.90L252.21 456.90L249.41 462.60Z" fill="#149bc3"/><path d="M260.22 454.40L265.82 454.40L263.02 460.10Z" fill="#149bc3"/><path d="M273.83 477.37L279.43 477.37L276.63 483.07Z" fill="#149bc3"/><path d="M287.43 457.50L293.03 457.50L290.23 463.20Z" fill="#149bc3"/><path d="M301.04 504.49L306.64 504.49L303.84 510.19Z" fill="#149bc3"/><path d="M318.05 490.22L323.65 490.22L320.85 495.92Z" fill="#149bc3"/><path d="M345.27 545.89L350.87 545.89L348.07 551.59Z" fill="#149bc3"/></g>
<g clip-path="url(#cr)"><path d="M55.50 174.58L62.30 224.54L69.11 279.74L75.91 315.91L82.72 360.87L89.52 392.52L96.32 407.74L103.13 441.05L109.93 456.28L116.73 483.88L123.54 500.53L130.34 524.80L137.15 537.17L143.95 565.25L150.75 582.38L157.56 608.55L164.36 616.64L171.17 624.25L177.97 668.03L184.77 679.92L191.58 695.15L198.38 696.10L205.19 699.43L211.99 712.76L218.79 732.27L225.60 751.30L232.40 723.70L239.20 775.09L249.41 800.79L263.02 747.97L276.63 806.02L303.84 815.54L320.85 809.83" fill="none" stroke="#ff0000" stroke-width="1.2" stroke-dasharray="1.6 1"/><path d="M55.50 171.18L57.70 174.58L55.50 177.98L53.30 174.58Z" fill="#ff0000"/><path d="M62.30 221.14L64.50 224.54L62.30 227.94L60.10 224.54Z" fill="#ff0000"/><path d="M69.11 276.34L71.31 279.74L69.11 283.14L66.91 279.74Z" fill="#ff0000"/><path d="M75.91 312.51L78.11 315.91L75.91 319.31L73.71 315.91Z" fill="#ff0000"/><path d="M82.72 357.47L84.92 360.87L82.72 364.27L80.52 360.87Z" fill="#ff0000"/><path d="M89.52 389.12L91.72 392.52L89.52 395.92L87.32 392.52Z" fill="#ff0000"/><path d="M96.32 404.34L98.52 407.74L96.32 411.14L94.12 407.74Z" fill="#ff0000"/><path d="M103.13 437.65L105.33 441.05L103.13 444.45L100.93 441.05Z" fill="#ff0000"/><path d="M109.93 452.88L112.13 456.28L109.93 459.68L107.73 456.28Z" fill="#ff0000"/><path d="M116.73 480.48L118.93 483.88L116.73 487.28L114.53 483.88Z" fill="#ff0000"/><path d="M123.54 497.13L125.74 500.53L123.54 503.93L121.34 500.53Z" fill="#ff0000"/><path d="M130.34 521.40L132.54 524.80L130.34 528.20L128.14 524.80Z" fill="#ff0000"/><path d="M137.15 533.77L139.35 537.17L137.15 540.57L134.95 537.17Z" fill="#ff0000"/><path d="M143.95 561.85L146.15 565.25L143.95 568.65L141.75 565.25Z" fill="#ff0000"/><path d="M150.75 578.98L152.95 582.38L150.75 585.78L148.55 582.38Z" fill="#ff0000"/><path d="M157.56 605.15L159.76 608.55L157.56 611.95L155.36 608.55Z" fill="#ff0000"/><path d="M164.36 613.24L166.56 616.64L164.36 620.04L162.16 616.64Z" fill="#ff0000"/><path d="M171.17 620.85L173.37 624.25L171.17 627.65L168.97 624.25Z" fill="#ff0000"/><path d="M177.97 664.63L180.17 668.03L177.97 671.43L175.77 668.03Z" fill="#ff0000"/><path d="M184.77 676.52L186.97 679.92L184.77 683.32L182.57 679.92Z" fill="#ff0000"/><path d="M191.58 691.75L193.78 695.15L191.58 698.55L189.38 695.15Z" fill="#ff0000"/><path d="M198.38 692.70L200.58 696.10L198.38 699.50L196.18 696.10Z" fill="#ff0000"/><path d="M205.19 696.03L207.39 699.43L205.19 702.83L202.99 699.43Z" fill="#ff0000"/><path d="M211.99 709.36L214.19 712.76L211.99 716.16L209.79 712.76Z" fill="#ff0000"/><path d="M218.79 728.87L220.99 732.27L218.79 735.67L216.59 732.27Z" fill="#ff0000"/><path d="M225.60 747.90L227.80 751.30L225.60 754.70L223.40 751.30Z" fill="#ff0000"/><path d="M232.40 720.30L234.60 723.70L232.40 727.10L230.20 723.70Z" fill="#ff0000"/><path d="M239.20 771.69L241.40 775.09L239.20 778.49L237.00 775.09Z" fill="#ff0000"/><path d="M249.41 797.39L251.61 800.79L249.41 804.19L247.21 800.79Z" fill="#ff0000"/><path d="M263.02 744.57L265.22 747.97L263.02 751.37L260.82 747.97Z" fill="#ff0000"/><path d="M276.63 802.62L278.83 806.02L276.63 809.42L274.43 806.02Z" fill="#ff0000"/><path d="M303.84 812.14L306.04 815.54L303.84 818.94L301.64 815.54Z" fill="#ff0000"/><path d="M320.85 806.43L323.05 809.83L320.85 813.23L318.65 809.83Z" fill="#ff0000"/></g>
<rect x="45.5" y="17.5" width="326.0" height="460.0" fill="none" stroke="#000" stroke-width="1"/>
<line x1="45.5" y1="317.5" x2="371.5" y2="317.5" stroke="#000" stroke-width="1"/>
<line x1="45.0" y1="478" x2="372.0" y2="478" stroke="#000" stroke-width="1.6"/>
<path d="M45.5 304.95h6M371.5 304.95h-6M45.5 297.48h6M371.5 297.48h-6M45.5 292.19h6M371.5 292.19h-6M45.5 288.08h6M371.5 288.08h-6M45.5 284.73h6M371.5 284.73h-6M45.5 281.89h6M371.5 281.89h-6M45.5 279.44h6M371.5 279.44h-6M45.5 277.27h6M371.5 277.27h-6M45.5 275.33h11.3M371.5 275.33h-11.3M45.5 262.58h6M371.5 262.58h-6M45.5 255.11h6M371.5 255.11h-6M45.5 249.82h6M371.5 249.82h-6M45.5 245.71h6M371.5 245.71h-6M45.5 242.36h6M371.5 242.36h-6M45.5 239.52h6M371.5 239.52h-6M45.5 237.07h6M371.5 237.07h-6M45.5 234.90h6M371.5 234.90h-6M45.5 232.96h11.3M371.5 232.96h-11.3M45.5 220.21h6M371.5 220.21h-6M45.5 212.74h6M371.5 212.74h-6M45.5 207.45h6M371.5 207.45h-6M45.5 203.34h6M371.5 203.34h-6M45.5 199.99h6M371.5 199.99h-6M45.5 197.15h6M371.5 197.15h-6M45.5 194.70h6M371.5 194.70h-6M45.5 192.53h6M371.5 192.53h-6M45.5 190.59h11.3M371.5 190.59h-11.3M45.5 177.84h6M371.5 177.84h-6M45.5 170.37h6M371.5 170.37h-6M45.5 165.08h6M371.5 165.08h-6M45.5 160.97h6M371.5 160.97h-6M45.5 157.62h6M371.5 157.62h-6M45.5 154.78h6M371.5 154.78h-6M45.5 152.33h6M371.5 152.33h-6M45.5 150.16h6M371.5 150.16h-6M45.5 148.22h11.3M371.5 148.22h-11.3M45.5 135.47h6M371.5 135.47h-6M45.5 128.00h6M371.5 128.00h-6M45.5 122.71h6M371.5 122.71h-6M45.5 118.60h6M371.5 118.60h-6M45.5 115.25h6M371.5 115.25h-6M45.5 112.41h6M371.5 112.41h-6M45.5 109.96h6M371.5 109.96h-6M45.5 107.79h6M371.5 107.79h-6M45.5 105.85h11.3M371.5 105.85h-11.3M45.5 93.10h6M371.5 93.10h-6M45.5 85.63h6M371.5 85.63h-6M45.5 80.34h6M371.5 80.34h-6M45.5 76.23h6M371.5 76.23h-6M45.5 72.88h6M371.5 72.88h-6M45.5 70.04h6M371.5 70.04h-6M45.5 67.59h6M371.5 67.59h-6M45.5 65.42h6M371.5 65.42h-6M45.5 63.48h11.3M371.5 63.48h-11.3M45.5 50.73h6M371.5 50.73h-6M45.5 43.26h6M371.5 43.26h-6M45.5 37.97h6M371.5 37.97h-6M45.5 33.86h6M371.5 33.86h-6M45.5 30.51h6M371.5 30.51h-6M45.5 27.67h6M371.5 27.67h-6M45.5 25.22h6M371.5 25.22h-6M45.5 23.05h6M371.5 23.05h-6M45.5 21.11h11.3M371.5 21.11h-11.3M48.38 17.5v3.5M48.38 317.5v-3.5M48.38 317.5v2M48.38 477.5v-2M55.50 17.5v8.2M55.50 317.5v-8.2M55.50 317.5v5.5M55.50 477.5v-4.6M62.62 17.5v3.5M62.62 317.5v-3.5M62.62 317.5v2M62.62 477.5v-2M69.75 17.5v3.5M69.75 317.5v-3.5M69.75 317.5v2M69.75 477.5v-2M76.88 17.5v3.5M76.88 317.5v-3.5M76.88 317.5v2M76.88 477.5v-2M84.00 17.5v3.5M84.00 317.5v-3.5M84.00 317.5v2M84.00 477.5v-2M91.12 17.5v3.5M91.12 317.5v-3.5M91.12 317.5v2M91.12 477.5v-2M98.25 17.5v3.5M98.25 317.5v-3.5M98.25 317.5v2M98.25 477.5v-2M105.38 17.5v3.5M105.38 317.5v-3.5M105.38 317.5v2M105.38 477.5v-2M112.50 17.5v3.5M112.50 317.5v-3.5M112.50 317.5v2M112.50 477.5v-2M119.62 17.5v3.5M119.62 317.5v-3.5M119.62 317.5v2M119.62 477.5v-2M126.75 17.5v8.2M126.75 317.5v-8.2M126.75 317.5v5.5M126.75 477.5v-4.6M133.88 17.5v3.5M133.88 317.5v-3.5M133.88 317.5v2M133.88 477.5v-2M141.00 17.5v3.5M141.00 317.5v-3.5M141.00 317.5v2M141.00 477.5v-2M148.12 17.5v3.5M148.12 317.5v-3.5M148.12 317.5v2M148.12 477.5v-2M155.25 17.5v3.5M155.25 317.5v-3.5M155.25 317.5v2M155.25 477.5v-2M162.38 17.5v3.5M162.38 317.5v-3.5M162.38 317.5v2M162.38 477.5v-2M169.50 17.5v3.5M169.50 317.5v-3.5M169.50 317.5v2M169.50 477.5v-2M176.62 17.5v3.5M176.62 317.5v-3.5M176.62 317.5v2M176.62 477.5v-2M183.75 17.5v3.5M183.75 317.5v-3.5M183.75 317.5v2M183.75 477.5v-2M190.88 17.5v3.5M190.88 317.5v-3.5M190.88 317.5v2M190.88 477.5v-2M198.00 17.5v8.2M198.00 317.5v-8.2M198.00 317.5v5.5M198.00 477.5v-4.6M205.12 17.5v3.5M205.12 317.5v-3.5M205.12 317.5v2M205.12 477.5v-2M212.25 17.5v3.5M212.25 317.5v-3.5M212.25 317.5v2M212.25 477.5v-2M219.38 17.5v3.5M219.38 317.5v-3.5M219.38 317.5v2M219.38 477.5v-2M226.50 17.5v3.5M226.50 317.5v-3.5M226.50 317.5v2M226.50 477.5v-2M233.62 17.5v3.5M233.62 317.5v-3.5M233.62 317.5v2M233.62 477.5v-2M240.75 17.5v3.5M240.75 317.5v-3.5M240.75 317.5v2M240.75 477.5v-2M247.88 17.5v3.5M247.88 317.5v-3.5M247.88 317.5v2M247.88 477.5v-2M255.00 17.5v3.5M255.00 317.5v-3.5M255.00 317.5v2M255.00 477.5v-2M262.12 17.5v3.5M262.12 317.5v-3.5M262.12 317.5v2M262.12 477.5v-2M269.25 17.5v8.2M269.25 317.5v-8.2M269.25 317.5v5.5M269.25 477.5v-4.6M276.38 17.5v3.5M276.38 317.5v-3.5M276.38 317.5v2M276.38 477.5v-2M283.50 17.5v3.5M283.50 317.5v-3.5M283.50 317.5v2M283.50 477.5v-2M290.62 17.5v3.5M290.62 317.5v-3.5M290.62 317.5v2M290.62 477.5v-2M297.75 17.5v3.5M297.75 317.5v-3.5M297.75 317.5v2M297.75 477.5v-2M304.88 17.5v3.5M304.88 317.5v-3.5M304.88 317.5v2M304.88 477.5v-2M312.00 17.5v3.5M312.00 317.5v-3.5M312.00 317.5v2M312.00 477.5v-2M319.12 17.5v3.5M319.12 317.5v-3.5M319.12 317.5v2M319.12 477.5v-2M326.25 17.5v3.5M326.25 317.5v-3.5M326.25 317.5v2M326.25 477.5v-2M333.38 17.5v3.5M333.38 317.5v-3.5M333.38 317.5v2M333.38 477.5v-2M340.50 17.5v8.2M340.50 317.5v-8.2M340.50 317.5v5.5M340.50 477.5v-4.6M347.62 17.5v3.5M347.62 317.5v-3.5M347.62 317.5v2M347.62 477.5v-2M354.75 17.5v3.5M354.75 317.5v-3.5M354.75 317.5v2M354.75 477.5v-2M361.88 17.5v3.5M361.88 317.5v-3.5M361.88 317.5v2M361.88 477.5v-2M369.00 17.5v3.5M369.00 317.5v-3.5M369.00 317.5v2M369.00 477.5v-2M45.5 458.44h7M371.5 458.44h-7M45.5 442.48h5M371.5 442.48h-5M45.5 428.98h5M371.5 428.98h-5M45.5 417.29h5M371.5 417.29h-5M45.5 406.98h5M371.5 406.98h-5M45.5 397.75h7M371.5 397.75h-7M45.5 389.40h5M371.5 389.40h-5M45.5 381.79h5M371.5 381.79h-5M45.5 374.78h5M371.5 374.78h-5M45.5 368.29h5M371.5 368.29h-5M45.5 362.25h5M371.5 362.25h-5M45.5 356.60h5M371.5 356.60h-5M45.5 351.29h5M371.5 351.29h-5M45.5 346.28h5M371.5 346.28h-5M45.5 341.55h5M371.5 341.55h-5M45.5 337.06h7M371.5 337.06h-7M45.5 332.79h5M371.5 332.79h-5M45.5 328.71h5M371.5 328.71h-5M45.5 324.82h5M371.5 324.82h-5M45.5 321.09h5M371.5 321.09h-5M45.5 317.52h5M371.5 317.52h-5" stroke="#000" stroke-width="1" fill="none"/>
<text x="51" y="13.7" font-size="12.2" text-anchor="start" fill="#000" >13000 GeV pp</text>
<text x="365.8" y="13.7" font-size="12.2" text-anchor="end" fill="#000" >Z+Jet</text>
<text x="208.5" y="42" font-size="12" text-anchor="middle" fill="#000" >Toward region, 60 &lt; p<tspan dy="6.9" font-size="8.5">T</tspan><tspan dy="-12.9" dx="-5" font-size="7.5">Z</tspan><tspan dy="6"> &lt; 80 [GeV], inclusive</tspan></text>
<text x="40" y="280.33" font-size="11" text-anchor="end" fill="#000" >10<tspan dy="-5" font-size="7.5">−4</tspan></text>
<text x="40" y="237.95999999999998" font-size="11" text-anchor="end" fill="#000" >10<tspan dy="-5" font-size="7.5">−3</tspan></text>
<text x="40" y="195.58999999999997" font-size="11" text-anchor="end" fill="#000" >10<tspan dy="-5" font-size="7.5">−2</tspan></text>
<text x="40" y="153.22" font-size="11" text-anchor="end" fill="#000" >10<tspan dy="-5" font-size="7.5">−1</tspan></text>
<text x="40" y="110.85" font-size="11" text-anchor="end" fill="#000" >1</text>
<text x="40" y="68.47999999999999" font-size="11" text-anchor="end" fill="#000" >10</text>
<text x="40" y="26.11" font-size="11" text-anchor="end" fill="#000" >10<tspan dy="-5" font-size="7.5">2</tspan></text>
<text x="38.6" y="340.76" font-size="11.4" text-anchor="end" fill="#000" >2</text>
<text x="373.2" y="341.46" font-size="11.4" text-anchor="start" fill="#000" >2</text>
<text x="38.6" y="401.45" font-size="11.4" text-anchor="end" fill="#000" >1</text>
<text x="373.2" y="402.15" font-size="11.4" text-anchor="start" fill="#000" >1</text>
<text x="38.6" y="462.14" font-size="11.4" text-anchor="end" fill="#000" >0.5</text>
<text x="373.2" y="462.84" font-size="11.4" text-anchor="start" fill="#000" >0.5</text>
<text x="55.5" y="489" font-size="10.5" text-anchor="middle" fill="#000" >0</text>
<text x="126.75" y="489" font-size="10.5" text-anchor="middle" fill="#000" >1</text>
<text x="198.0" y="489" font-size="10.5" text-anchor="middle" fill="#000" >2</text>
<text x="269.25" y="489" font-size="10.5" text-anchor="middle" fill="#000" >3</text>
<text x="340.5" y="489" font-size="10.5" text-anchor="middle" fill="#000" >4</text>
<text x="369" y="502.2" font-size="12" text-anchor="end" fill="#000" >N<tspan dy="3.2" font-size="7.5">ch</tspan><tspan dy="-3.2">/dη dϕ</tspan></text>
<text transform="translate(16.1,21) rotate(-90)" font-size="12" text-anchor="end">1/N<tspan dy="3.5" font-size="7.3">ev</tspan><tspan dy="-3.5"> dN</tspan><tspan dy="3.5" font-size="7.3">ev</tspan><tspan dy="-3.5">/dN</tspan><tspan dy="3.5" font-size="7.3">ch</tspan><tspan dy="-3.5">/dη dϕ</tspan></text>
<text transform="translate(18.7,396.2) rotate(-90)" font-size="9" text-anchor="middle">Ratio to ATLAS</text>
<text transform="translate(380.3,17.6) rotate(-90)" font-size="9.4" text-anchor="end" fill="#777">Rivet 4.1.0, ≥ 2.1M events</text>
<text transform="translate(380.3,171.7) rotate(-90)" font-size="9.4" text-anchor="end" fill="#777">mcplots.cern.ch [arXiv:1306.3436]</text>
<text x="207.5" y="302.1" font-size="8" text-anchor="middle" fill="#999" >(ATLAS_2019_I1736531)</text>
<rect x="73.60" y="208.20" width="5.6" height="5.6" fill="#000"/>
<text x="94" y="214.0" font-size="9.4" text-anchor="start" fill="#000" >ATLAS</text>
<line x1="64" y1="223.95" x2="89" y2="223.95" stroke="#b8641e" stroke-width="1.0" stroke-dasharray="2.4 1.7"/>
<circle cx="76.40" cy="223.95" r="2.75" fill="none" stroke="#b8641e" stroke-width="1.25"/>
<text x="94" y="226.95" font-size="9.4" text-anchor="start" fill="#000" >Herwig++ 2.7.1 default</text>
<line x1="64" y1="236.90" x2="89" y2="236.90" stroke="#339918" stroke-width="1.0" stroke-dasharray="2.4 1.7"/>
<rect x="73.70" y="234.20" width="5.4" height="5.4" fill="none" stroke="#339918" stroke-width="1.2"/>
<text x="94" y="239.9" font-size="9.4" text-anchor="start" fill="#000" >Herwig 7.2.1 default</text>
<line x1="64" y1="249.85" x2="89" y2="249.85" stroke="#0000e6" stroke-width="1.0"/>
<path d="M76.40 246.75L79.30 252.45L73.50 252.45Z" fill="#0000e6"/>
<text x="94" y="252.85" font-size="9.4" text-anchor="start" fill="#000" >Pythia 8.315 default</text>
<line x1="64" y1="262.80" x2="89" y2="262.80" stroke="#149bc3" stroke-width="1.0" stroke-dasharray="4 1.5 1 1.5"/>
<path d="M73.60 260.10L79.20 260.10L76.40 265.80Z" fill="#149bc3"/>
<text x="94" y="265.8" font-size="9.4" text-anchor="start" fill="#000" >Pythia 8.315 vincia-default</text>
<line x1="64" y1="275.75" x2="89" y2="275.75" stroke="#ff0000" stroke-width="1.0" stroke-dasharray="1.6 1"/>
<path d="M76.40 272.35L78.60 275.75L76.40 279.15L74.20 275.75Z" fill="#ff0000"/>
<text x="94" y="278.75" font-size="9.4" text-anchor="start" fill="#000" >Sherpa 2.2.9 default</text>
</svg></body></html>
